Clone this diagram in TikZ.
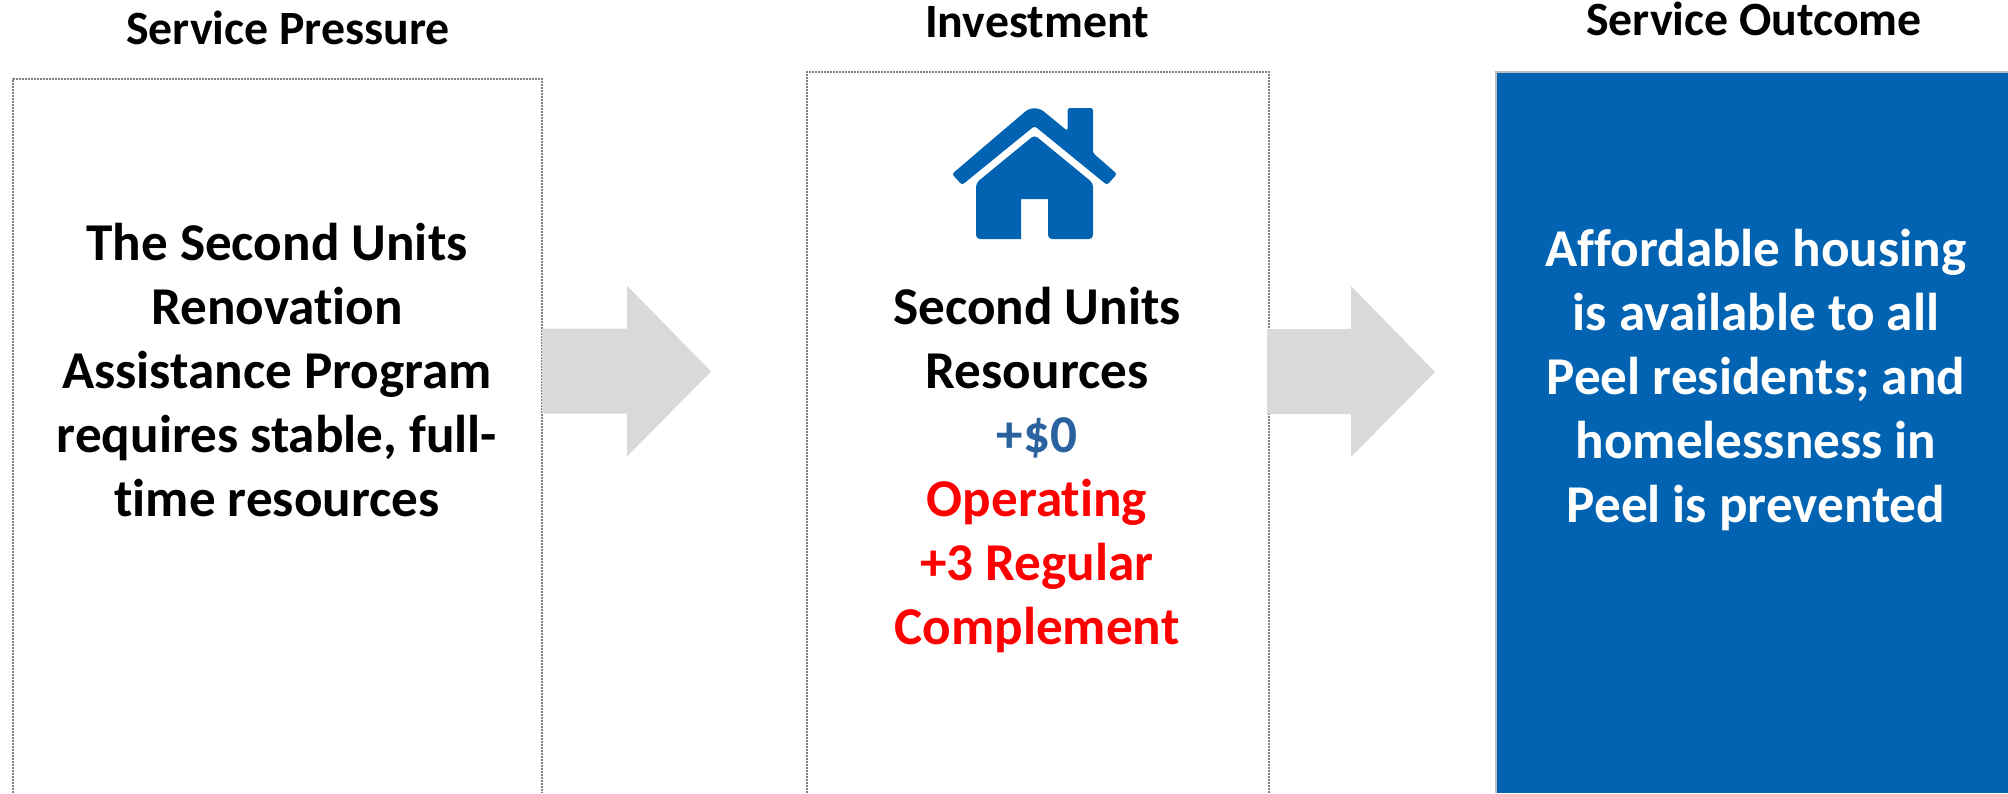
\documentclass[tikz,border=0pt]{standalone}
\usepackage{fontspec}
\setmainfont[RawFeature=-liga]{Carlito}
\definecolor{peelblue}{RGB}{1,99,177}
\definecolor{zeroblue}{RGB}{42,98,160}
\definecolor{arrowgray}{RGB}{217,217,217}
\definecolor{edgegray}{RGB}{190,190,190}
\tikzset{
  heading/.style={font=\bfseries\fontsize{47.8}{56}\selectfont,text=black,inner sep=0pt,anchor=base},
  bodytext/.style={font=\bfseries\fontsize{53.2}{64}\selectfont,align=center,inner sep=0pt,anchor=north},
  dotedge/.style={draw=black!50,line width=1.2pt,dash pattern=on 2pt off 1pt},
  blockarrow/.style={fill=arrowgray,draw=none},
}
\newcommand{\firstline}{\rule{0pt}{40pt}}
\begin{document}
\begin{tikzpicture}[x=1pt,y=-1pt]
\useasboundingbox (0,0) rectangle (2008,793);
% boxes
\coordinate (pressureNW) at (13,79);
\coordinate (pressureSE) at (542,793);
\coordinate (investNW) at (807,72);
\coordinate (investSE) at (1269,793);
\coordinate (outcomeNW) at (1496,72);
\coordinate (outcomeSE) at (2008,793);
\draw[dotedge] (pressureNW|-pressureSE) -- (pressureNW) -- (pressureSE|-pressureNW) -- (pressureSE);
\draw[dotedge] (investNW|-investSE) -- (investNW) -- (investSE|-investNW) -- (investSE);
\fill[peelblue] (outcomeNW) rectangle (outcomeSE);
\draw[edgegray,line width=2.5pt] (outcomeNW|-outcomeSE) -- (outcomeNW) -- (outcomeSE|-outcomeNW);
% block arrows
\coordinate (arrowA) at (542,371.5);
\coordinate (arrowB) at (1267,372);
\fill[blockarrow] (arrowA) ++(0,-43) -- ++(85,0) -- ++(0,-43) -- ++(84,86) -- ++(-84,85) -- ++(0,-43) -- ++(-85,0) -- cycle;
\fill[blockarrow] (arrowB) ++(0,-43) -- ++(84,0) -- ++(0,-43) -- ++(84,86) -- ++(-84,85) -- ++(0,-43) -- ++(-84,0) -- cycle;
% headings
\node[heading] (h1) at (288,44) {Service Pressure};
\node[heading] (h2) at (1037,37) {Investment};
\node[heading] (h3) at (1754,35) {Service Outcome};
% house icon
\fill[peelblue,rounded corners=2.5pt] (952,174) -- (1027,110) to[rounded corners=4pt] (1034.5,107.5) to (1042,110) -- (1067.5,131) -- (1067.5,108) -- (1093,108) -- (1093,153) -- (1117,174) -- (1107,185) -- (1034.5,126) -- (962,185) -- cycle;
\fill[peelblue,rounded corners=4pt] (1034.5,135) -- (1093,183) -- (1093,239) -- (1048,239) [sharp corners] -- (1048,199) -- (1021,199) -- (1021,239) [rounded corners=4pt] -- (976,239) -- (976,183) -- cycle;
% texts
\node[bodytext] (t1) at (277,220) {\firstline The Second Units\\Renovation\\Assistance Program\\requires stable, full-\\time resources};
\node[bodytext] (t2) at (1037,284) {\firstline Second Units\\Resources\\\textcolor{zeroblue}{+\$0}\\\textcolor{red}{Operating}\\\textcolor{red}{+3 Regular}\\\textcolor{red}{Complement}};
\node[bodytext,text=white] (t3) at (1756,226) {\firstline Affordable housing\\is available to all\\Peel residents; and\\homelessness in\\Peel is prevented};
\end{tikzpicture}
\end{document}
